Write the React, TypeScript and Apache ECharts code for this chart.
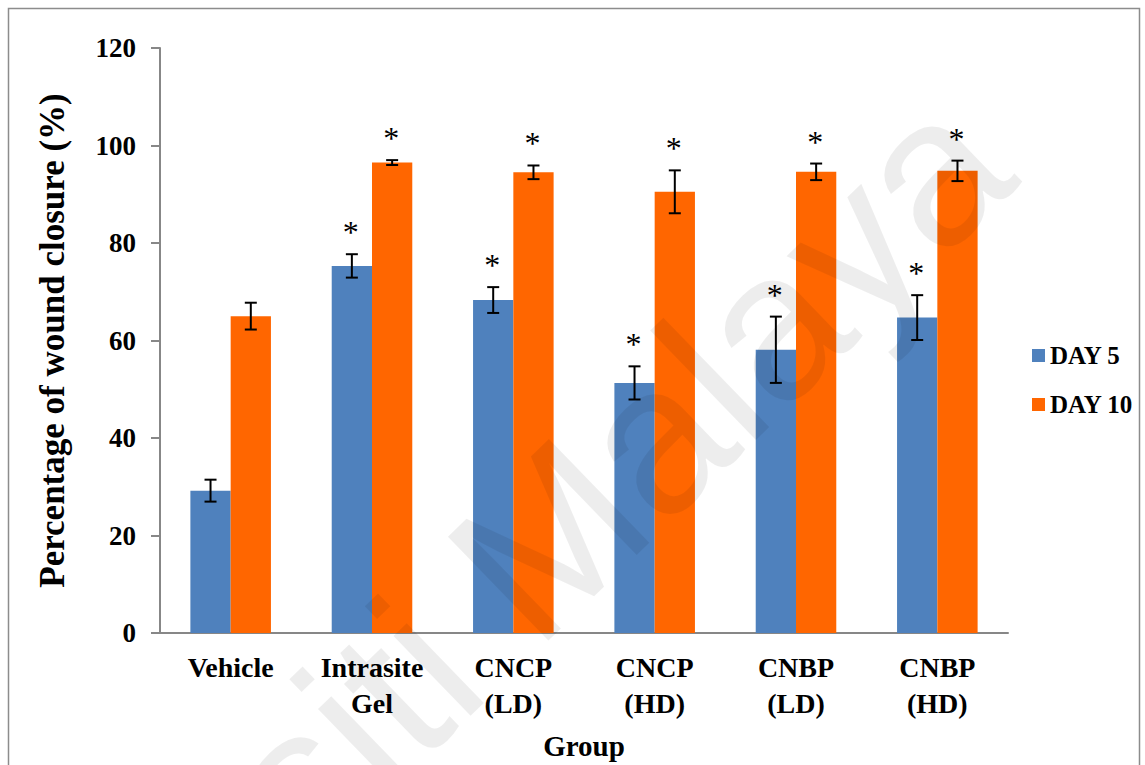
import { useEffect, useRef } from 'react';
import * as echarts from 'echarts';

const categories = ['Vehicle', 'Intrasite\nGel', 'CNCP\n(LD)', 'CNCP\n(HD)', 'CNBP\n(LD)', 'CNBP\n(HD)'];
const day5 = [29.2, 75.3, 68.3, 51.3, 58.1, 64.7];
const day5Err = [2.25, 2.4, 2.65, 3.4, 6.8, 4.6];
const day5Sig = [0, 1, 1, 1, 1, 1];
const day10 = [65.0, 96.5, 94.5, 90.5, 94.6, 94.8];
const day10Err = [2.75, 0.5, 1.4, 4.4, 1.7, 2.1];
const day10Sig = [0, 1, 1, 1, 1, 1];
const yTicks = { min: 0, max: 120, interval: 20 };

const FONT = '"Liberation Serif", "Times New Roman", serif';
const GAP = 0.43;
const BLUE = '#4F81BD';
const ORANGE = '#FF6600';
const AXIS = '#878787';

function errSeries(values: number[], errs: number[], sig: number[], side: number) {
  return {
    type: 'custom',
    z: 10,
    silent: true,
    encode: { x: 0, y: 1 },
    data: values.map((v, i) => [i, v, errs[i], sig[i]]),
    renderItem: (params: any, api: any) => {
      const i = api.value(0);
      const v = api.value(1);
      const e = api.value(2);
      const s = api.value(3);
      const band = api.size([1, 0])[0];
      const barW = (band * (1 - GAP)) / 2;
      const c = api.coord([i, v]);
      const x = c[0] + side * (barW / 2);
      const top = api.coord([i, v + e])[1];
      const bot = api.coord([i, v - e])[1];
      const cap = 6;
      const st = { stroke: '#000', lineWidth: 2 };
      const children: any[] = [
        { type: 'line', shape: { x1: x, y1: top, x2: x, y2: bot }, style: st },
        { type: 'line', shape: { x1: x - cap, y1: top, x2: x + cap, y2: top }, style: st },
        { type: 'line', shape: { x1: x - cap, y1: bot, x2: x + cap, y2: bot }, style: st },
      ];
      if (s) {
        children.push({
          type: 'text',
          style: {
            text: '*',
            x: x - 1,
            y: top - 22,
            align: 'center',
            verticalAlign: 'middle',
            font: `normal 32px ${FONT}`,
            fill: '#000',
          },
        });
      }
      return { type: 'group', children };
    },
  };
}

export default function App() {
  const ref = useRef<HTMLDivElement>(null);
  useEffect(() => {
    document.body.style.margin = '0';
    const chart = echarts.init(ref.current!, undefined, { renderer: 'svg' });
    const option: any = {
      animation: false,
      backgroundColor: '#fff',
      grid: { left: 160, right: 137, top: 48, bottom: 131.5, containLabel: false },
      legend: {
        data: ['DAY 5', 'DAY 10'],
        orient: 'vertical',
        left: 1027,
        top: 338,
        itemWidth: 13,
        itemHeight: 13,
        itemGap: 24,
        icon: 'rect',
        textStyle: { fontFamily: FONT, fontWeight: 'bold', fontSize: 25, color: '#000' },
      },
      xAxis: {
        type: 'category',
        data: categories,
        name: 'Group',
        nameLocation: 'middle',
        nameGap: 98,
        nameTextStyle: { fontFamily: FONT, fontWeight: 'bold', fontSize: 29, color: '#000' },
        axisLine: { lineStyle: { color: AXIS, width: 2 } },
        axisTick: { show: false },
        axisLabel: {
          margin: 16,
          fontFamily: FONT,
          fontWeight: 'bold',
          fontSize: 28,
          lineHeight: 36,
          color: '#000',
          interval: 0,
        },
      },
      yAxis: {
        type: 'value',
        min: yTicks.min,
        max: yTicks.max,
        interval: yTicks.interval,
        name: 'Percentage of wound closure (%)',
        nameLocation: 'middle',
        nameGap: 90,
        nameTextStyle: { fontFamily: FONT, fontWeight: 'bold', fontSize: 35, color: '#000' },
        axisLine: { show: true, lineStyle: { color: AXIS, width: 2 } },
        axisTick: { show: true, length: 9, lineStyle: { color: AXIS, width: 2 } },
        splitLine: { show: false },
        axisLabel: {
          margin: 24,
          fontFamily: FONT,
          fontWeight: 'bold',
          fontSize: 27,
          color: '#000',
        },
      },
      series: [
        {
          name: 'DAY 5',
          type: 'bar',
          data: day5,
          barGap: '0%',
          barCategoryGap: `${GAP * 100}%`,
          itemStyle: { color: BLUE },
        },
        {
          name: 'DAY 10',
          type: 'bar',
          data: day10,
          barGap: '0%',
          barCategoryGap: `${GAP * 100}%`,
          itemStyle: { color: ORANGE },
        },
        errSeries(day5, day5Err, day5Sig, -1),
        errSeries(day10, day10Err, day10Sig, 1),
      ],
      graphic: [
        {
          type: 'rect',
          z: 0,
          silent: true,
          shape: { x: 8.5, y: 8.5, width: 1131, height: 800 },
          style: { fill: 'none', stroke: '#8c8c8c', lineWidth: 1.5 },
        },
        {
          type: 'text',
          z: 100,
          silent: true,
          x: 1045,
          y: 205,
          rotation: (44 * Math.PI) / 180,
          style: {
            text: 'Universiti Malaya',
            align: 'right',
            verticalAlign: 'bottom',
            font: `normal 210px "Liberation Sans", Arial, sans-serif`,
            fill: 'rgba(0,0,0,0.07)',
          },
        },
      ],
    };
    chart.setOption(option);
    return () => chart.dispose();
  }, []);
  return <div ref={ref} style={{ width: 1145, height: 765 }} />;
}
